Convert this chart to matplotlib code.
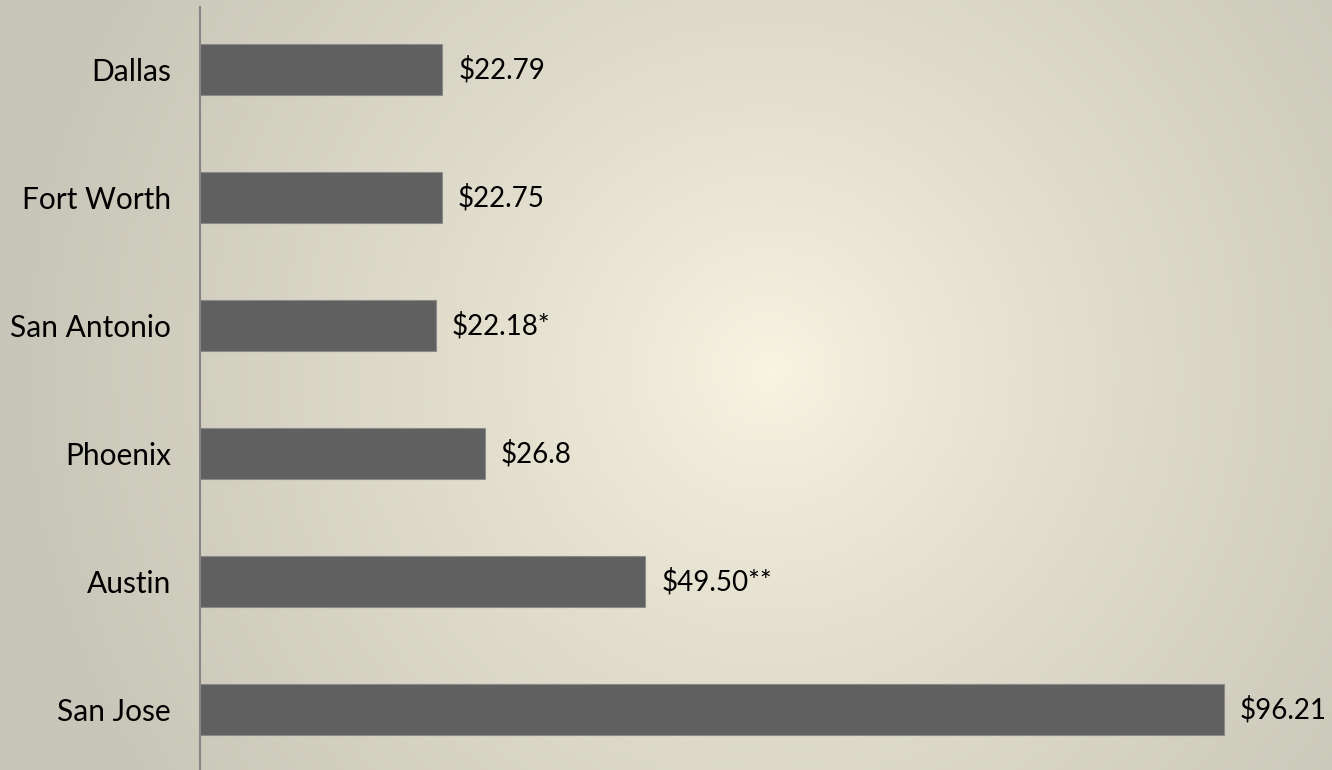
import matplotlib.pyplot as plt
import numpy as np

cities = ["Dallas", "Fort Worth", "San Antonio", "Phoenix", "Austin", "San Jose"]
# bar lengths as drawn in the picture
lengths = [22.79, 22.75, 22.18, 26.8, 41.9, 96.3]
labels = ["$22.79", "$22.75", "$22.18*", "$26.8", "$49.50**", "$96.21"]

plt.rcParams['font.family'] = ['Lato', 'DejaVu Sans']

fig = plt.figure(figsize=(13.32, 7.7), dpi=100)

# radial gradient background
bg = fig.add_axes([0, 0, 1, 1], zorder=0)
xx, yy = np.meshgrid(np.linspace(0, 1332, 400), np.linspace(0, 770, 240))
r = np.sqrt(((xx - 770) / 800) ** 2 + ((yy - 370) / 800) ** 2)
r = np.clip(r / 0.95, 0, 1) ** 0.8
c_in = np.array([249, 245, 227]) / 255
c_out = np.array([200, 198, 184]) / 255
img = c_in[None, None, :] * (1 - r[..., None]) + c_out[None, None, :] * r[..., None]
bg.imshow(img, extent=[0, 1332, 770, 0], aspect='auto')
bg.axis('off')

ax = fig.add_axes([200 / 1332, 0, 1132 / 1332, 763 / 770], zorder=1)
ax.patch.set_alpha(0)
y = np.arange(len(cities))
ax.barh(y, lengths, height=0.4, color='#606060', edgecolor='#8a8a86', linewidth=0.8)

for yi, v, lab in zip(y, lengths, labels):
    ax.text(v + 1.5, yi, lab, va='center', ha='left', fontsize=20, color='black')

ax.set_xlim(0, 1132 / 10.63)
ax.set_ylim(5.47, -0.49)
ax.set_yticks(y)
ax.set_yticklabels(cities, fontsize=21.5)
ax.tick_params(axis='y', length=0, pad=21)
ax.set_xticks([])
for s in ['top', 'right', 'bottom']:
    ax.spines[s].set_visible(False)
ax.spines['left'].set_color('#868686')
ax.spines['left'].set_linewidth(1.5)

plt.savefig("out.png", dpi=100)
